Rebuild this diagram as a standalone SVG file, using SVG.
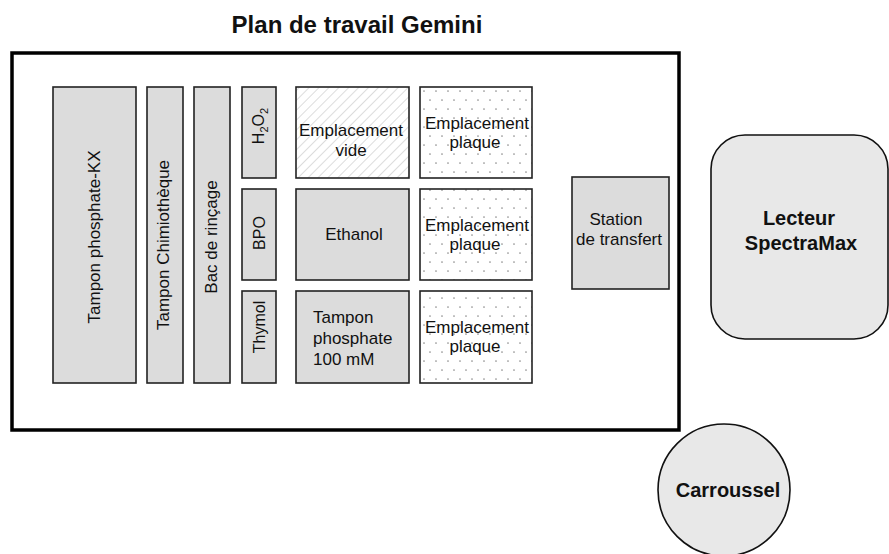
<svg xmlns="http://www.w3.org/2000/svg" width="889" height="554" viewBox="0 0 889 554">
<style>
text{font-family:"Liberation Sans",Arial,sans-serif;font-size:17px;fill:#111}
.b{font-weight:bold}
.m{text-anchor:middle}
.s{font-size:16px}
.box{fill:#dcdcdc;stroke:#222;stroke-width:1.6}
.big{fill:#e8e8e8;stroke:#111;stroke-width:1.6}
</style>
<defs>
<pattern id="hatch" width="7" height="7" patternUnits="userSpaceOnUse" patternTransform="rotate(45)">
<rect width="7" height="7" fill="#fff"/>
<line x1="0" y1="0" x2="0" y2="7" stroke="#d4d4d4" stroke-width="1.6"/>
</pattern>
<pattern id="dots" width="12" height="18" patternUnits="userSpaceOnUse" x="420" y="87">
<rect width="12" height="18" fill="#fff"/>
<circle cx="4" cy="4" r="0.85" fill="#8e8e8e"/>
<circle cx="10" cy="13" r="0.85" fill="#8e8e8e"/>
</pattern>
</defs>
<text class="b m" x="357" y="33" style="font-size:24px">Plan de travail Gemini</text>
<g id="plan"><rect x="12" y="53" width="667" height="377" fill="#fff" stroke="#000" stroke-width="3.5"/></g>
<g id="connectors"></g>
<g id="tampon-kx"><rect class="box" x="53" y="87" width="83" height="296"/><text class="m" transform="translate(100,237) rotate(-90)">Tampon phosphate-KX</text></g>
<g id="tampon-chimio"><rect class="box" x="147" y="87" width="36" height="296"/><text class="m" transform="translate(169,245) rotate(-90)">Tampon Chimiothèque</text></g>
<g id="bac"><rect class="box" x="194" y="87" width="36" height="296"/><text class="m" transform="translate(217,237) rotate(-90)">Bac de rinçage</text></g>
<g id="h2o2"><rect class="box" x="242" y="87" width="34" height="91"/><text class="m s" transform="translate(264,126) rotate(-90)">H<tspan dy="4" style="font-size:11px">2</tspan><tspan dy="-4">O</tspan><tspan dy="4" style="font-size:11px">2</tspan></text></g>
<g id="bpo"><rect class="box" x="242" y="189" width="34" height="91"/><text class="m s" transform="translate(265,233) rotate(-90)">BPO</text></g>
<g id="thymol"><rect class="box" x="242" y="291" width="34" height="92"/><text class="m s" transform="translate(265,327) rotate(-90)">Thymol</text></g>
<g id="vide"><rect x="296" y="87" width="113" height="91" fill="url(#hatch)" stroke="#222" stroke-width="1.6"/><text class="m" x="351" y="136">Emplacement</text><text class="m" x="351" y="156">vide</text></g>
<g id="ethanol"><rect class="box" x="296" y="189" width="113" height="91"/><text class="m" x="354" y="240">Ethanol</text></g>
<g id="tampon100"><rect class="box" x="296" y="291" width="113" height="92"/><text x="313" y="323">Tampon</text><text x="313" y="344">phosphate</text><text x="313" y="365">100 mM</text></g>
<g id="plaque1"><rect x="420" y="87" width="112" height="91" fill="url(#dots)" stroke="#222" stroke-width="1.6"/><text class="m" x="477" y="129">Emplacement</text><text class="m" x="475" y="148">plaque</text></g>
<g id="plaque2"><rect x="420" y="189" width="112" height="91" fill="url(#dots)" stroke="#222" stroke-width="1.6"/><text class="m" x="477" y="231">Emplacement</text><text class="m" x="475" y="250">plaque</text></g>
<g id="plaque3"><rect x="420" y="291" width="112" height="92" fill="url(#dots)" stroke="#222" stroke-width="1.6"/><text class="m" x="477" y="333">Emplacement</text><text class="m" x="475" y="352">plaque</text></g>
<g id="station"><rect class="box" x="572" y="177" width="97" height="112"/><text class="m" x="616" y="225">Station</text><text class="m" x="619" y="245">de transfert</text></g>
<g id="lecteur"><rect class="big" x="711" y="135" width="177" height="204" rx="34"/><text class="b m" x="799" y="225" style="font-size:20px">Lecteur</text><text class="b m" x="801" y="250" style="font-size:20px">SpectraMax</text></g>
<g id="carroussel"><circle class="big" cx="724" cy="490" r="66"/><text class="b m" x="728" y="497" style="font-size:20px">Carroussel</text></g>
</svg>
